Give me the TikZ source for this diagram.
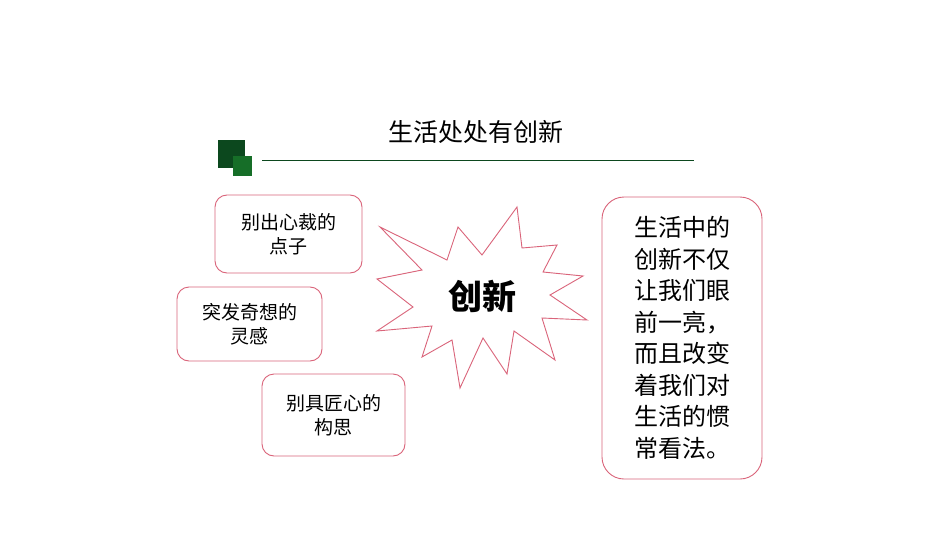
\documentclass[tikz,border=0pt]{standalone}
\usepackage{fontspec}
\setmainfont{Noto Sans CJK SC}
\newfontfamily\cjkb[BoldFont={Noto Sans CJK SC Bold}]{Noto Sans CJK SC}
\begin{document}
\begin{tikzpicture}[x=1pt,y=-1pt]
\definecolor{pinkline}{RGB}{218,100,122}
\definecolor{dgreen}{RGB}{12,72,30}
\definecolor{mgreen}{RGB}{22,110,40}
\tikzset{rbox/.style={draw=pinkline,line width=0.9pt,rounded corners=12pt,fill=white},
 btxt/.style={font=\fontsize{19}{24}\selectfont,align=center}}
\useasboundingbox[fill=white] (0,0) rectangle (950,535);
\node[font=\fontsize{25}{30}\selectfont] (title) at (476,132) {生活处处有创新};
\fill[dgreen] (218,140) rectangle (245,168);
\fill[mgreen] (233,156) rectangle (252,176);
\draw[dgreen,line width=0.8pt] (262,160) -- (694,160);
\draw[rbox] (215,195) rectangle (362,273);
\node[btxt] (b1) at (288.5,234) {别出心裁的\\点子};
\draw[rbox] (177,287) rectangle (322,361);
\node[btxt] (b2) at (249.5,324) {突发奇想的\\灵感};
\draw[rbox] (262,374) rectangle (405,456);
\node[btxt] (b3) at (333.5,415) {别具匠心的\\构思};
\draw[rbox,rounded corners=22pt] (602,197) rectangle (762,479);
\node[font=\fontsize{24}{31.5}\selectfont,align=left] (rt) at (682,338) {生活中的\\创新不仅\\让我们眼\\前一亮，\\而且改变\\着我们对\\生活的惯\\常看法。};
\draw[pinkline,line width=0.9pt,fill=white] (380,227)--(447,260)--(458,227)--(482,255)--(517,207)--(522,248)--(557,245)--(543,272)--(583,276)--(550,295)--(587,320)--(542,318)--(555,360)--(514,331)--(507,374)--(483,338)--(460,388)--(452,340)--(422,357)--(432,326)--(377,331)--(413,307)--(377,279)--(422,270)--cycle;
\node[font=\fontsize{34}{40}\selectfont\bfseries] (star) at (482,296) {创新};
\end{tikzpicture}
\end{document}
